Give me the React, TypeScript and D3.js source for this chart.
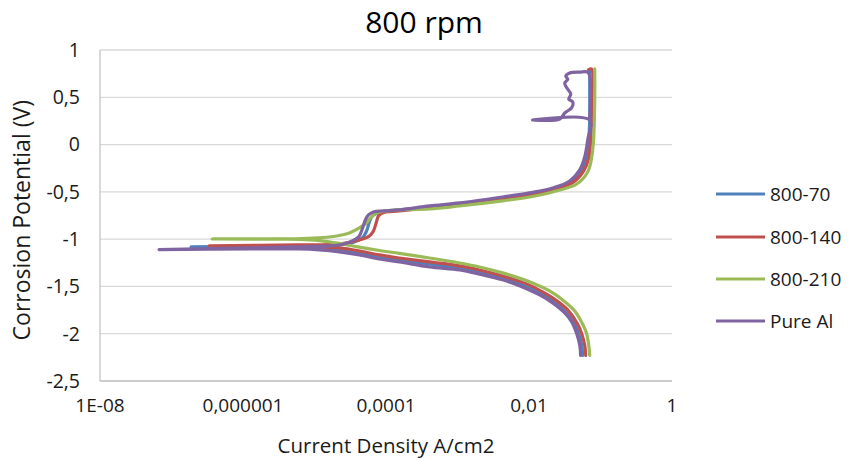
import React from "react";
import * as d3 from "d3";

const seriesNames = ["800-70", "800-140", "800-210", "Pure Al"];
const seriesColors = ["#4F81BD", "#C0504D", "#9BBB59", "#8064A2"];
const yTicks = [1, 0.5, 0, -0.5, -1, -1.5, -2, -2.5];
const xTicks = [1e-8, 1e-6, 1e-4, 1e-2, 1];
const xTickLabels = ["1E-08", "0,000001", "0,0001", "0,01", "1"];

// [current density A/cm2, potential V]
const s800_70: [number, number][] = [
  [0.0564, -2.23], [0.0546, -2.12], [0.0495, -2.0], [0.0436, -1.9], [0.0316, -1.76],
  [0.0214, -1.653], [0.0141, -1.569], [0.0081, -1.484], [0.00427, -1.41], [0.00203, -1.347],
  [0.00107, -1.305], [4.06e-4, -1.262], [1.54e-4, -1.22], [8.1e-5, -1.188], [4.24e-5, -1.146],
  [2.22e-5, -1.114], [1.17e-5, -1.093], [6.1e-6, -1.082], [1.88e-7, -1.082],
  [6.1e-6, -1.072], [2.22e-5, -1.061], [3.6e-5, -1.03], [4.67e-5, -0.987], [5.31e-5, -0.92],
  [5.86e-5, -0.818], [6.46e-5, -0.755], [7.6e-5, -0.723], [1.12e-4, -0.702], [4.06e-4, -0.66],
  [1.07e-3, -0.628], [4.27e-3, -0.565], [1.02e-2, -0.52], [2.14e-2, -0.47], [3.96e-2, -0.385],
  [5.46e-2, -0.268], [6.41e-2, -0.131], [6.84e-2, 0.049], [7.07e-2, 0.26], [7.07e-2, 0.577],
  [7.07e-2, 0.79],
];

const s800_140: [number, number][] = [
  [0.0621, -2.23], [0.0601, -2.12], [0.0546, -2.0], [0.048, -1.9], [0.0348, -1.748],
  [0.0236, -1.643], [0.0155, -1.558], [0.00925, -1.473], [0.00427, -1.389], [0.00203, -1.326],
  [0.00107, -1.283], [4.06e-4, -1.241], [1.54e-4, -1.199], [8.1e-5, -1.167], [4.24e-5, -1.125],
  [2.22e-5, -1.093], [1.17e-5, -1.082], [6.1e-6, -1.072], [3.37e-7, -1.072],
  [6.1e-6, -1.061], [2.22e-5, -1.051], [4.24e-5, -1.008], [5.86e-5, -0.966], [6.67e-5, -0.913],
  [7.35e-5, -0.818], [7.84e-5, -0.755], [8.9e-5, -0.723], [1.54e-4, -0.702], [4.06e-4, -0.67],
  [1.07e-3, -0.638], [4.27e-3, -0.575], [1.02e-2, -0.533], [2.14e-2, -0.48], [4.22e-2, -0.395],
  [5.82e-2, -0.279], [6.84e-2, -0.142], [7.3e-2, 0.049], [7.5e-2, 0.366], [7.5e-2, 0.8],
  [6.8e-2, 0.79],
];

const s800_210: [number, number][] = [
  [0.0707, -2.23], [0.0684, -2.12], [0.0641, -2.0], [0.0564, -1.9], [0.0436, -1.76],
  [0.0296, -1.643], [0.0194, -1.548], [0.0112, -1.463], [0.00427, -1.357], [0.00203, -1.294],
  [0.00107, -1.252], [4.06e-4, -1.199], [1.54e-4, -1.15], [8.1e-5, -1.12], [4.24e-5, -1.085],
  [2.22e-5, -1.045], [1.17e-5, -1.015], [6.1e-6, -1.002], [3.7e-7, -0.998],
  [3.2e-6, -0.998], [1.61e-5, -0.977], [3.07e-5, -0.934], [4.24e-5, -0.882], [5.31e-5, -0.829],
  [6.25e-5, -0.765], [7.35e-5, -0.723], [1.4e-4, -0.691], [4.06e-4, -0.681], [1.07e-3, -0.649],
  [4.27e-3, -0.596], [1.02e-2, -0.554], [2.14e-2, -0.501], [4.65e-2, -0.417], [6.62e-2, -0.29],
  [7.5e-2, -0.142], [0.08, 0.049], [0.083, 0.471], [0.083, 0.8],
];

const pureAl: [number, number][] = [
  [0.0528, -2.23], [0.0512, -2.12], [0.0465, -2.0], [0.0396, -1.875], [0.0316, -1.78],
  [0.0214, -1.674], [0.0141, -1.59], [0.0081, -1.505], [0.00427, -1.43], [0.00203, -1.37],
  [0.00107, -1.326], [4.06e-4, -1.294], [1.54e-4, -1.241], [8.1e-5, -1.21], [4.24e-5, -1.167],
  [2.22e-5, -1.135], [1.17e-5, -1.114], [6.1e-6, -1.104], [1.22e-6, -1.104], [6.7e-8, -1.11],
  [1.22e-6, -1.093], [6.1e-6, -1.082], [1.61e-5, -1.072], [2.61e-5, -1.051], [3.6e-5, -1.008],
  [4.24e-5, -0.966], [4.67e-5, -0.89], [5.14e-5, -0.797], [5.68e-5, -0.744], [6.67e-5, -0.712],
  [9.5e-5, -0.702], [1.54e-4, -0.691], [4.06e-4, -0.649], [1.07e-3, -0.617], [4.27e-3, -0.554],
  [1.02e-2, -0.51], [2.14e-2, -0.459], [3.71e-2, -0.385], [5.12e-2, -0.268], [6.01e-2, -0.131],
  [6.62e-2, 0.049], [7.07e-2, 0.26], [1.12e-2, 0.26], [2.69e-2, 0.27], [3.16e-2, 0.334],
  [3.96e-2, 0.39], [4.09e-2, 0.45], [3.6e-2, 0.48], [3.84e-2, 0.535], [3.37e-2, 0.6],
  [3.16e-2, 0.65], [3.48e-2, 0.69], [3.27e-2, 0.725], [3.71e-2, 0.757], [5.12e-2, 0.767],
  [6.62e-2, 0.767], [7.07e-2, 0.725], [7.07e-2, 0.26],
];

const allSeries = [s800_70, s800_140, s800_210, pureAl];

const W = 860;
const H = 461;
const FONT = "'Open Sans', 'Noto Sans', sans-serif";

export default function App() {
  const x = d3.scaleLog().domain([1e-8, 1]).range([100, 672]);
  const y = d3.scaleLinear().domain([-2.5, 1]).range([381, 50]);
  const line = d3
    .line<[number, number]>()
    .x((d) => x(d[0]))
    .y((d) => y(d[1]))
    .curve(d3.curveCatmullRom.alpha(0.5));
  const fmtY = (v: number) => String(v).replace(".", ",");
  const legendY = [194, 237, 279, 321];

  return (
    <svg
      width={W}
      height={H}
      style={{ position: "absolute", left: 0, top: 0, background: "#fff" }}
      fontFamily={FONT}
    >
      <rect x={0} y={0} width={W} height={H} fill="#fff" />
      {yTicks.map((t) => (
        <line key={"g" + t} x1={x(1e-8)} x2={x(1)} y1={y(t)} y2={y(t)} stroke="#d9d9d9" strokeWidth={1.3} />
      ))}
      <line x1={x(1e-8)} x2={x(1e-8)} y1={y(1)} y2={y(-2.5)} stroke="#c4c4c4" strokeWidth={1.3} />
      <line x1={x(1e-8)} x2={x(1)} y1={y(-2.5)} y2={y(-2.5)} stroke="#c4c4c4" strokeWidth={1.3} />
      {yTicks.map((t) => (
        <text key={"yl" + t} x={80} y={y(t)} dy="0.35em" textAnchor="end" fontSize={19.5} fill="#1a1a1a">
          {fmtY(t)}
        </text>
      ))}
      {xTicks.map((t, i) => (
        <text key={"xl" + t} x={x(t)} y={412} textAnchor="middle" fontSize={19} fill="#1a1a1a">
          {xTickLabels[i]}
        </text>
      ))}
      {allSeries.map((s, i) => (
        <path
          key={seriesNames[i]}
          d={line(s) || ""}
          fill="none"
          stroke={seriesColors[i]}
          strokeWidth={3.2}
          strokeLinejoin="round"
          strokeLinecap="round"
        />
      ))}
      <text x={424} y={33} textAnchor="middle" fontSize={30} fill="#000">
        800 rpm
      </text>
      <text x={386} y={453} textAnchor="middle" fontSize={20.5} fill="#1a1a1a">
        Current Density A/cm2
      </text>
      <text
        transform={`translate(30, ${y(-0.8)}) rotate(-90)`}
        textAnchor="middle"
        fontSize={23}
        fill="#1a1a1a"
      >
        Corrosion Potential (V)
      </text>
      {seriesNames.map((n, i) => (
        <g key={"lg" + n}>
          <line x1={716} x2={765} y1={legendY[i]} y2={legendY[i]} stroke={seriesColors[i]} strokeWidth={3.2} />
          <text x={770} y={legendY[i]} dy="0.35em" fontSize={19} fill="#1a1a1a">
            {n}
          </text>
        </g>
      ))}
    </svg>
  );
}
